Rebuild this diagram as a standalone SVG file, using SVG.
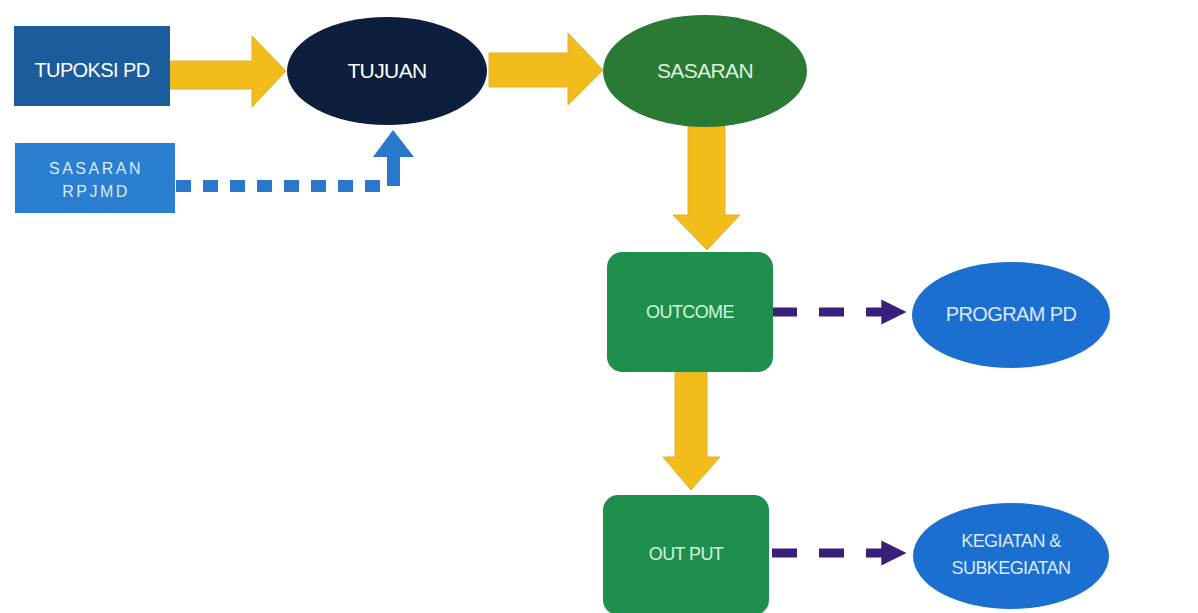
<svg xmlns="http://www.w3.org/2000/svg" width="1198" height="613" viewBox="0 0 1198 613">
<defs>
<style>
.t{font-family:"Liberation Sans","Open Sans",sans-serif;font-size:18px;text-anchor:middle;fill:#ffffff;letter-spacing:-0.6px}
.y{fill:#f2bc1b;stroke:#e0b030;stroke-width:1}
.dash{stroke:#3a1f7a;stroke-width:9;fill:none;stroke-dasharray:25 22}
</style>
<marker id="ph" viewBox="0 0 10 10" refX="9" refY="5" markerWidth="2.8" markerHeight="2.8" orient="auto" markerUnits="strokeWidth">
<path d="M0,0 L10,5 L0,10 z" fill="#3a1f7a"/>
</marker>
</defs>
<rect width="1198" height="613" fill="#ffffff"/>
<g id="connectors">
<path class="y" d="M170,61 L252,61 L252,36 L286,71 L252,107 L252,89 L170,89 z"/>
<path class="y" d="M489,53 L568,53 L568,33 L603,70 L568,105 L568,87 L489,87 z"/>
<path class="y" d="M688,126 L725,126 L725,215 L740,215 L707,250 L673,215 L688,215 z"/>
<path class="y" d="M675,372 L707,372 L707,457 L720,457 L691,490 L663,457 L675,457 z"/>
<line x1="176" y1="186" x2="392" y2="186" stroke="#2a78cc" stroke-width="12" stroke-dasharray="15 12"/>
<path d="M387,186 L387,157 L373,157 L393,130 L414,157 L400,157 L400,186 z" fill="#2a78cc"/>
<line class="dash" x1="772" y1="312" x2="904" y2="312" marker-end="url(#ph)"/>
<line class="dash" x1="772" y1="553" x2="904" y2="553" marker-end="url(#ph)"/>
</g>
<g id="tupoksi">
<rect x="14" y="26" width="156" height="80" fill="#1b5c9c"/>
<text class="t" x="92" y="77" style="font-size:20px">TUPOKSI PD</text>
</g>
<g id="sasaran-rpjmd">
<rect x="15" y="143" width="160" height="70" fill="#2a7fd0"/>
<text class="t" x="96" y="174" style="font-size:16px;letter-spacing:2.5px;fill:#dce9fa">SASARAN</text>
<text class="t" x="96" y="197" style="font-size:16px;letter-spacing:2.5px;fill:#dce9fa">RPJMD</text>
</g>
<g id="tujuan">
<ellipse cx="387" cy="71" rx="100" ry="54" fill="#0e1e3d"/>
<text class="t" x="387" y="78" style="font-size:21px">TUJUAN</text>
</g>
<g id="sasaran">
<ellipse cx="705" cy="71" rx="102" ry="56" fill="#2a7a35"/>
<text class="t" x="705" y="78" style="font-size:21px;fill:#dff2de">SASARAN</text>
</g>
<g id="outcome">
<rect x="607" y="252" width="166" height="120" rx="15" fill="#1f8f4e"/>
<text class="t" x="690" y="318" style="fill:#d3f3dc">OUTCOME</text>
</g>
<g id="output">
<rect x="603" y="495" width="166" height="120" rx="15" fill="#1f8f4e"/>
<text class="t" x="686" y="560" style="fill:#d3f3dc">OUT PUT</text>
</g>
<g id="program-pd">
<ellipse cx="1011" cy="315" rx="99" ry="53" fill="#1a6fd0"/>
<text class="t" x="1011" y="321" style="font-size:20px;fill:#dde8fb">PROGRAM PD</text>
</g>
<g id="kegiatan">
<ellipse cx="1011" cy="556" rx="98" ry="53" fill="#1a6fd0"/>
<text class="t" x="1011" y="547" style="fill:#dde8fb">KEGIATAN &amp;</text>
<text class="t" x="1011" y="574" style="fill:#dde8fb">SUBKEGIATAN</text>
</g>
</svg>
